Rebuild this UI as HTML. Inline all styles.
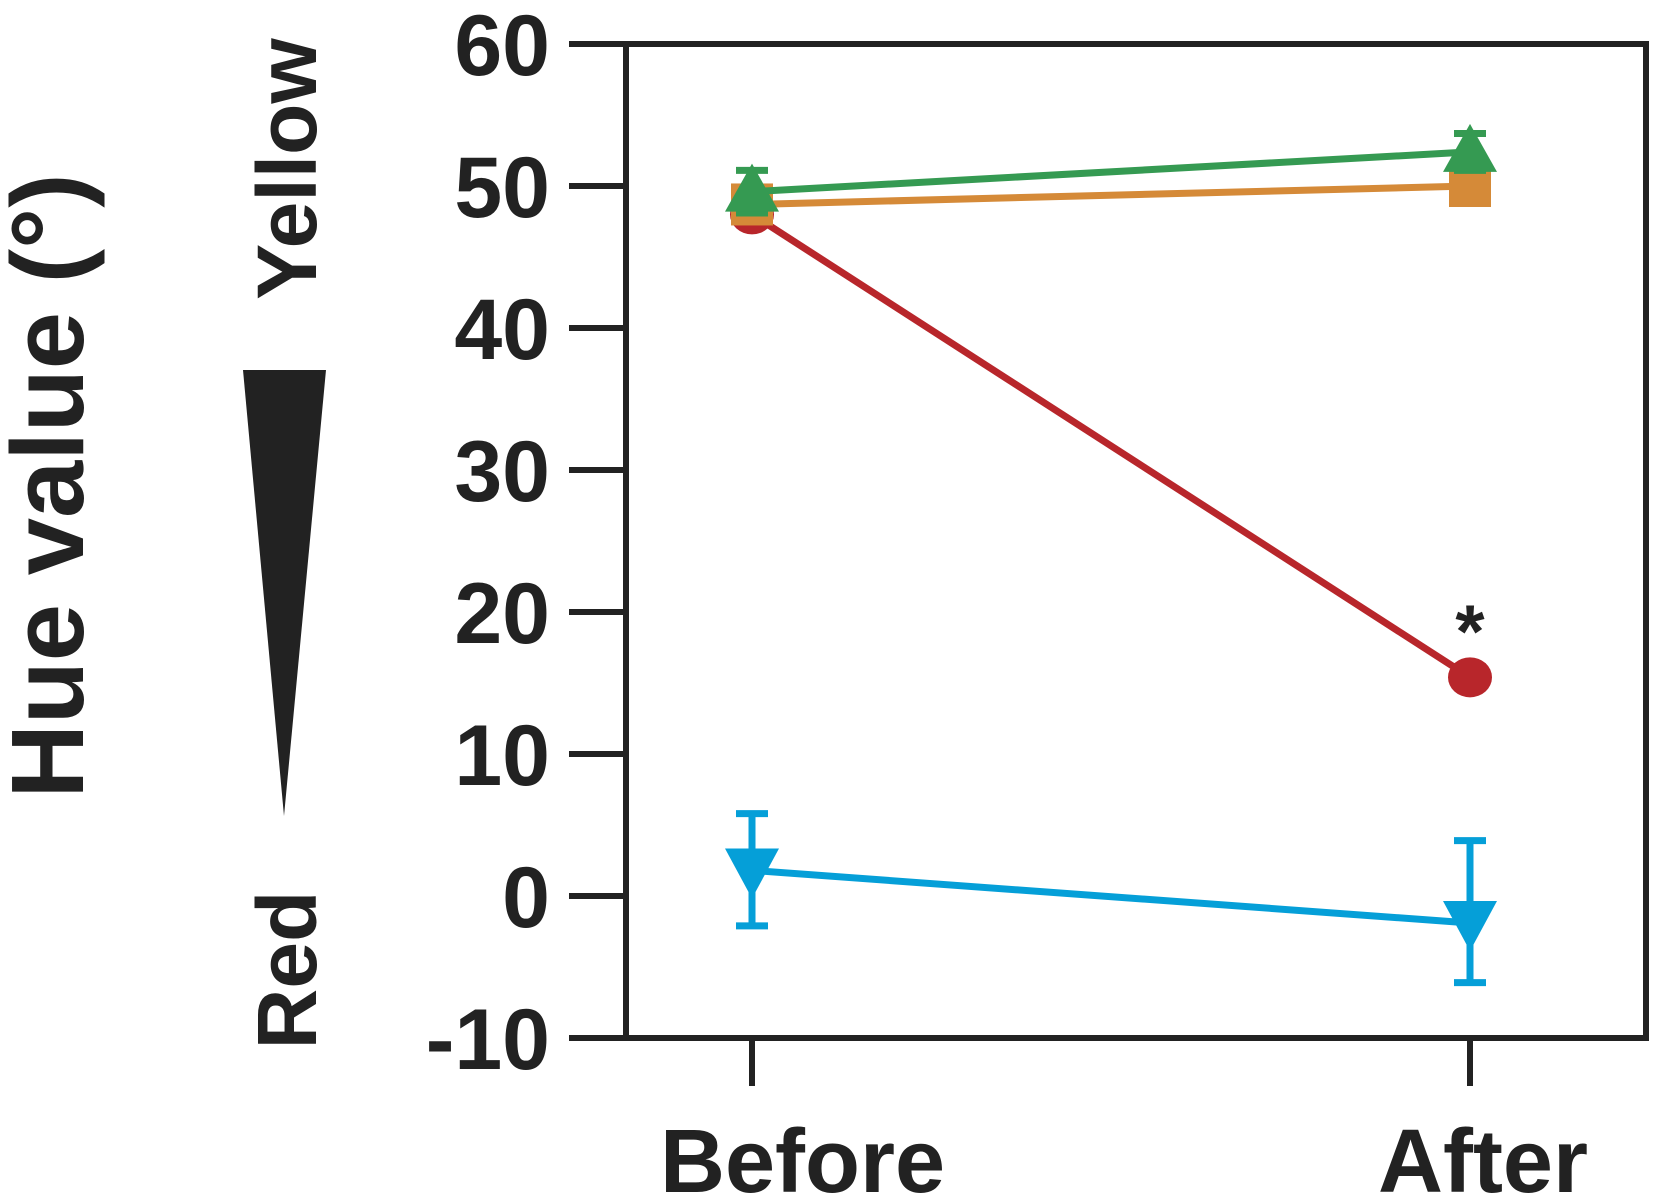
<!DOCTYPE html>
<html><head><meta charset="utf-8"><style>
html,body{margin:0;padding:0;background:#fff}
svg{display:block}
text{font-family:"Liberation Sans",sans-serif;font-weight:bold;fill:#222}
</style></head><body>
<svg id="chart" width="1657" height="1204" viewBox="0 0 1657 1204" xmlns="http://www.w3.org/2000/svg">
<g id="axes"></g>
<g id="series"></g>
<text transform="translate(83,486) rotate(-90)" text-anchor="middle" font-size="103">Hue value (°)</text>
<text transform="translate(316,169) rotate(-90)" text-anchor="middle" font-size="84">Yellow</text>
<text transform="translate(316,970) rotate(-90)" text-anchor="middle" font-size="84">Red</text>
<polygon points="243,370 326,370 284,816" fill="#222"/>
</svg>
<script>
const yTicks=[60,50,40,30,20,10,0,-10];
const categories=["Before","After"];
const seriesNames=["red","orange","green","blue"];
const redVals=[48,15.4];
const orangeVals=[48.7,50];
const greenVals=[49.6,52.4];
const blueVals=[1.8,-1.9];
const greenErrUp=[1.5,1.3];
const greenErrDown=[1.5,1.3];
const blueErrUp=[4.0,5.8];
const blueErrDown=[3.9,4.2];
const sig=[false,true];

const L=626,R=1646,T=44,B=1038;
const y=v=>T+(60-v)*(B-T)/70;
const xs=[752,1470];
const x=i=>xs[i];
const NS="http://www.w3.org/2000/svg";
function mk(tag,attrs,parent){const e=document.createElementNS(NS,tag);for(const k in attrs)e.setAttribute(k,attrs[k]);parent.appendChild(e);return e;}
const ax=document.getElementById('axes'), sr=document.getElementById('series');
let f=mk('rect',{x:L,y:T,width:R-L,height:B-T,fill:'none',stroke:'#222','stroke-width':6},ax);


yTicks.forEach(v=>{
 let t=mk('line',{x1:569,x2:L,y1:y(v),y2:y(v),stroke:'#222','stroke-width':6},ax);
 
 
 let lb=mk('text',{x:550,y:y(v)+31,'text-anchor':'end','font-size':86},ax);
 
 
 lb.textContent=v;
});
categories.forEach((c,i)=>{
 let t=mk('line',{x1:x(i),x2:x(i),y1:B,y2:1086,stroke:'#222','stroke-width':6},ax);
 
 
 let lb=mk('text',{x:x(i)-92,y:1192,'text-anchor':'start','font-size':90},ax);
 
 
 lb.textContent=c;
});
function line(vals,col,name){
 let p=mk('polyline',{points:vals.map((v,i)=>x(i)+','+y(v)).join(' '),fill:'none',stroke:col,'stroke-width':7},sr);
 
 
}
function err(vals,up,dn,col,name){
 vals.forEach((v,i)=>{
  let g=mk('path',{d:`M${x(i)},${y(v+up[i])}V${y(v-dn[i])}M${x(i)-16},${y(v+up[i])}h32M${x(i)-16},${y(v-dn[i])}h32`,stroke:col,'stroke-width':7,fill:'none'},sr);
  
  
 });
}
line(redVals,'#b8262b','red');
redVals.forEach((v,i)=>{
 let c=mk('ellipse',{cx:x(i),cy:y(v),rx:22,ry:20,fill:'#b8262b'},sr);
 
 
});
line(orangeVals,'#d58a38','orange');
orangeVals.forEach((v,i)=>{
 let s=mk('rect',{x:x(i)-21,y:y(v)-21,width:42,height:42,fill:'#d58a38'},sr);
 
 
});
err(greenVals,greenErrUp,greenErrDown,'#359a52','green');
line(greenVals,'#359a52','green');
greenVals.forEach((v,i)=>{
 let p=mk('polygon',{points:`${x(i)},${y(v)-28} ${x(i)+27},${y(v)+20} ${x(i)-27},${y(v)+20}`,fill:'#359a52'},sr);
 
 
});
err(blueVals,blueErrUp,blueErrDown,'#059fd8','blue');
line(blueVals,'#059fd8','blue');
blueVals.forEach((v,i)=>{
 let p=mk('polygon',{points:`${x(i)-27},${y(v)-22} ${x(i)+27},${y(v)-22} ${x(i)},${y(v)+28}`,fill:'#059fd8'},sr);
 
 
});
sig.forEach((s,i)=>{ if(!s) return;
 let t=mk('text',{x:x(i),y:y(redVals[i])-20,'text-anchor':'middle','font-size':75},sr);
 
 
 t.textContent='*';
});
</script>
</body></html>
